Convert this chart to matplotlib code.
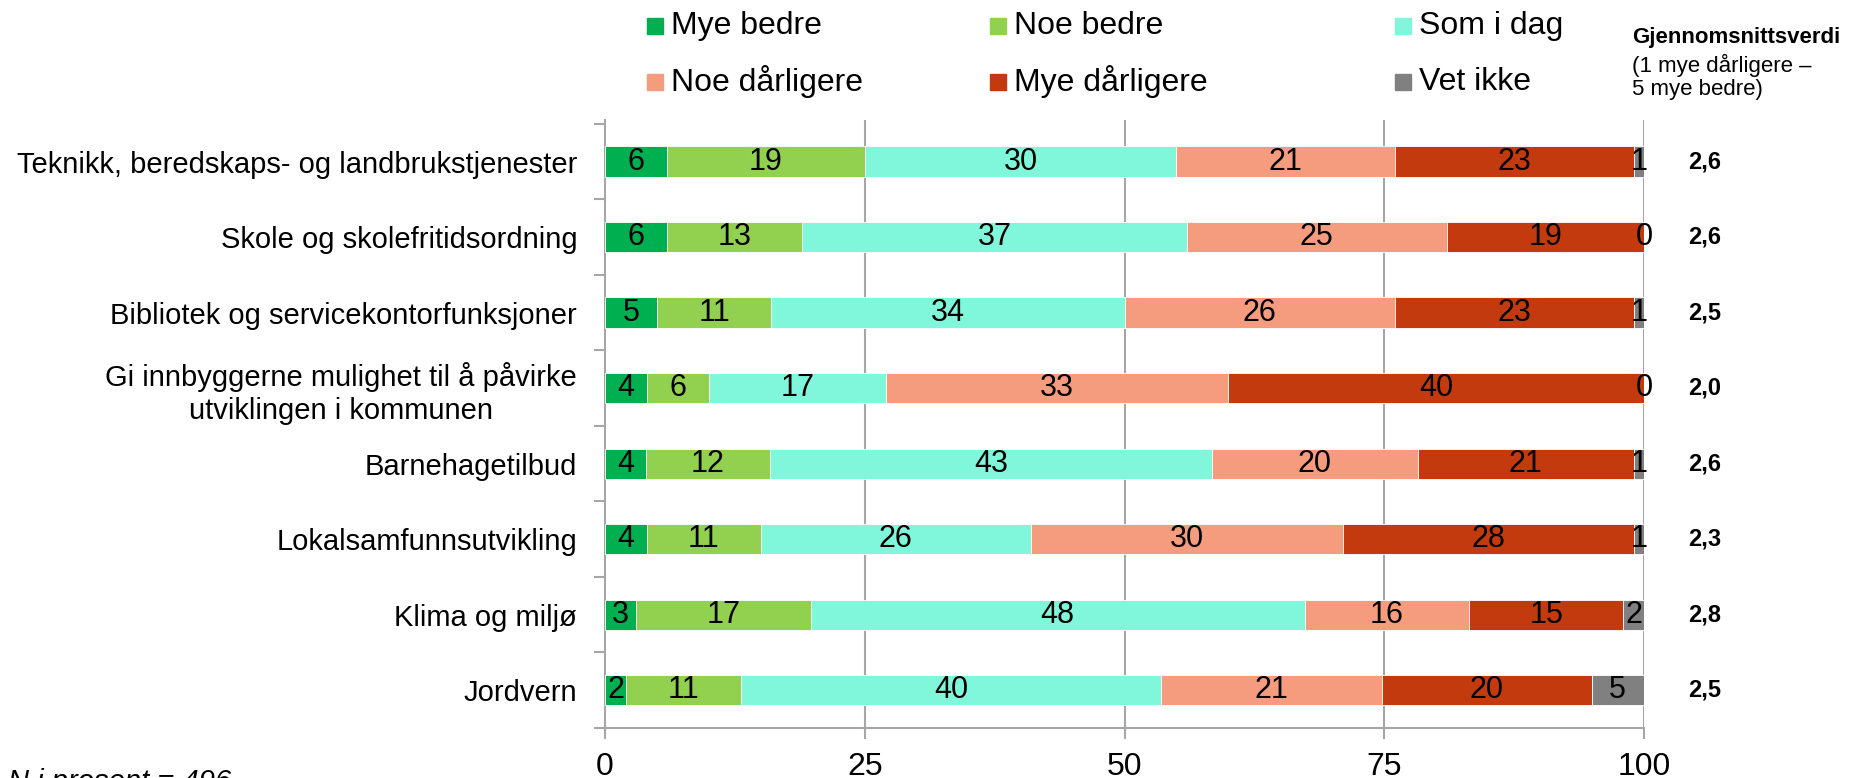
import matplotlib.pyplot as plt
import matplotlib.transforms as mtransforms
from matplotlib.patches import Rectangle
import numpy as np

plt.rcParams['font.family'] = ['Liberation Sans', 'DejaVu Sans']

categories = [
    "Teknikk, beredskaps- og landbrukstjenester",
    "Skole og skolefritidsordning",
    "Bibliotek og servicekontorfunksjoner",
    "Gi innbyggerne mulighet til å påvirke\nutviklingen i kommunen",
    "Barnehagetilbud",
    "Lokalsamfunnsutvikling",
    "Klima og miljø",
    "Jordvern",
]
series_names = ["Mye bedre", "Noe bedre", "Som i dag", "Noe dårligere", "Mye dårligere", "Vet ikke"]
mye_bedre = [6, 6, 5, 4, 4, 4, 3, 2]
noe_bedre = [19, 13, 11, 6, 12, 11, 17, 11]
som_i_dag = [30, 37, 34, 17, 43, 26, 48, 40]
noe_darligere = [21, 25, 26, 33, 20, 30, 16, 21]
mye_darligere = [23, 19, 23, 40, 21, 28, 15, 20]
vet_ikke = [1, 0, 1, 0, 1, 1, 2, 5]
snitt = ["2,6", "2,6", "2,5", "2,0", "2,6", "2,3", "2,8", "2,5"]
x_ticks = [0, 25, 50, 75, 100]

colors = ["#00B050", "#92D050", "#80F7DA", "#F59C7E", "#C33A0E", "#808080"]
grey = "#A6A6A6"

W, H = 1850, 778
fig = plt.figure(figsize=(W / 100, H / 100), dpi=100)
ax = fig.add_axes([605 / W, 50 / H, (1644 - 605) / W, (728 - 120) / H])

data = np.array([mye_bedre, noe_bedre, som_i_dag, noe_darligere, mye_darligere, vet_ikke], dtype=float)
totals = data.sum(axis=0)
widths = data / totals * 100
y = np.arange(len(categories))
left = np.zeros(len(categories))
for i, name in enumerate(series_names):
    bars = ax.barh(y, widths[i], left=left, height=0.4, color=colors[i],
                   edgecolor="white", linewidth=0.6, label=name, zorder=3)
    for j, b in enumerate(bars):
        ax.text(left[j] + widths[i][j] / 2, y[j], f"{int(data[i][j])}",
                ha="center", va="center", fontsize=22, color="black", zorder=4)
    left += widths[i]

ax.set_xlim(0, 100)
ax.set_ylim(7.5, -0.55)
ax.set_xticks(x_ticks)
ax.set_xticklabels([str(t) for t in x_ticks], fontsize=23)
ax.set_yticks(y)
ax.set_yticklabels(categories, fontsize=21, multialignment="center")
ax.set_yticks(np.arange(-0.5, 8, 1), minor=True)
ax.tick_params(axis="y", which="major", length=0, pad=20)
ax.tick_params(axis="y", which="minor", length=8, color=grey, width=1.5)
ax.tick_params(axis="x", length=8, color=grey, width=1.5, pad=9)
for t in x_ticks[1:]:
    ax.axvline(t, color=grey, lw=1.5, zorder=1)
for s in ["top", "right"]:
    ax.spines[s].set_visible(False)
for s in ["left", "bottom"]:
    ax.spines[s].set_color(grey)
    ax.spines[s].set_linewidth(1.5)

# legend drawn by hand in pixel positions
def fx(px):
    return px / W

def fy(py):
    return (H - py) / H

leg_x = [647, 990, 1395]
leg_y = [26, 82]
for k, name in enumerate(series_names):
    cx = leg_x[k % 3]
    cy = leg_y[k // 3]
    fig.add_artist(Rectangle((fx(cx), fy(cy + 8)), 16 / W, 16 / H,
                             transform=fig.transFigure, color=colors[k]))
    fig.text(fx(cx + 24), fy(cy), name, fontsize=23, va="center", ha="left")

# mean values column
trans = mtransforms.blended_transform_factory(fig.transFigure, ax.transData)
for j, v in enumerate(snitt):
    ax.text(fx(1688), y[j], v, transform=trans, fontsize=17, fontweight="bold",
            ha="left", va="center")
fig.text(fx(1632), fy(38), "Gjennomsnittsverdi", fontsize=16, fontweight="bold", va="center")
fig.text(fx(1632), fy(65), "(1 mye dårligere –", fontsize=16, va="center")
fig.text(fx(1632), fy(90), "5 mye bedre)", fontsize=16, va="center")

fig.text(fx(8), fy(768), "N i prosent = 496", fontsize=21, style="italic", va="top")

fig.savefig("out.png", dpi=100)
